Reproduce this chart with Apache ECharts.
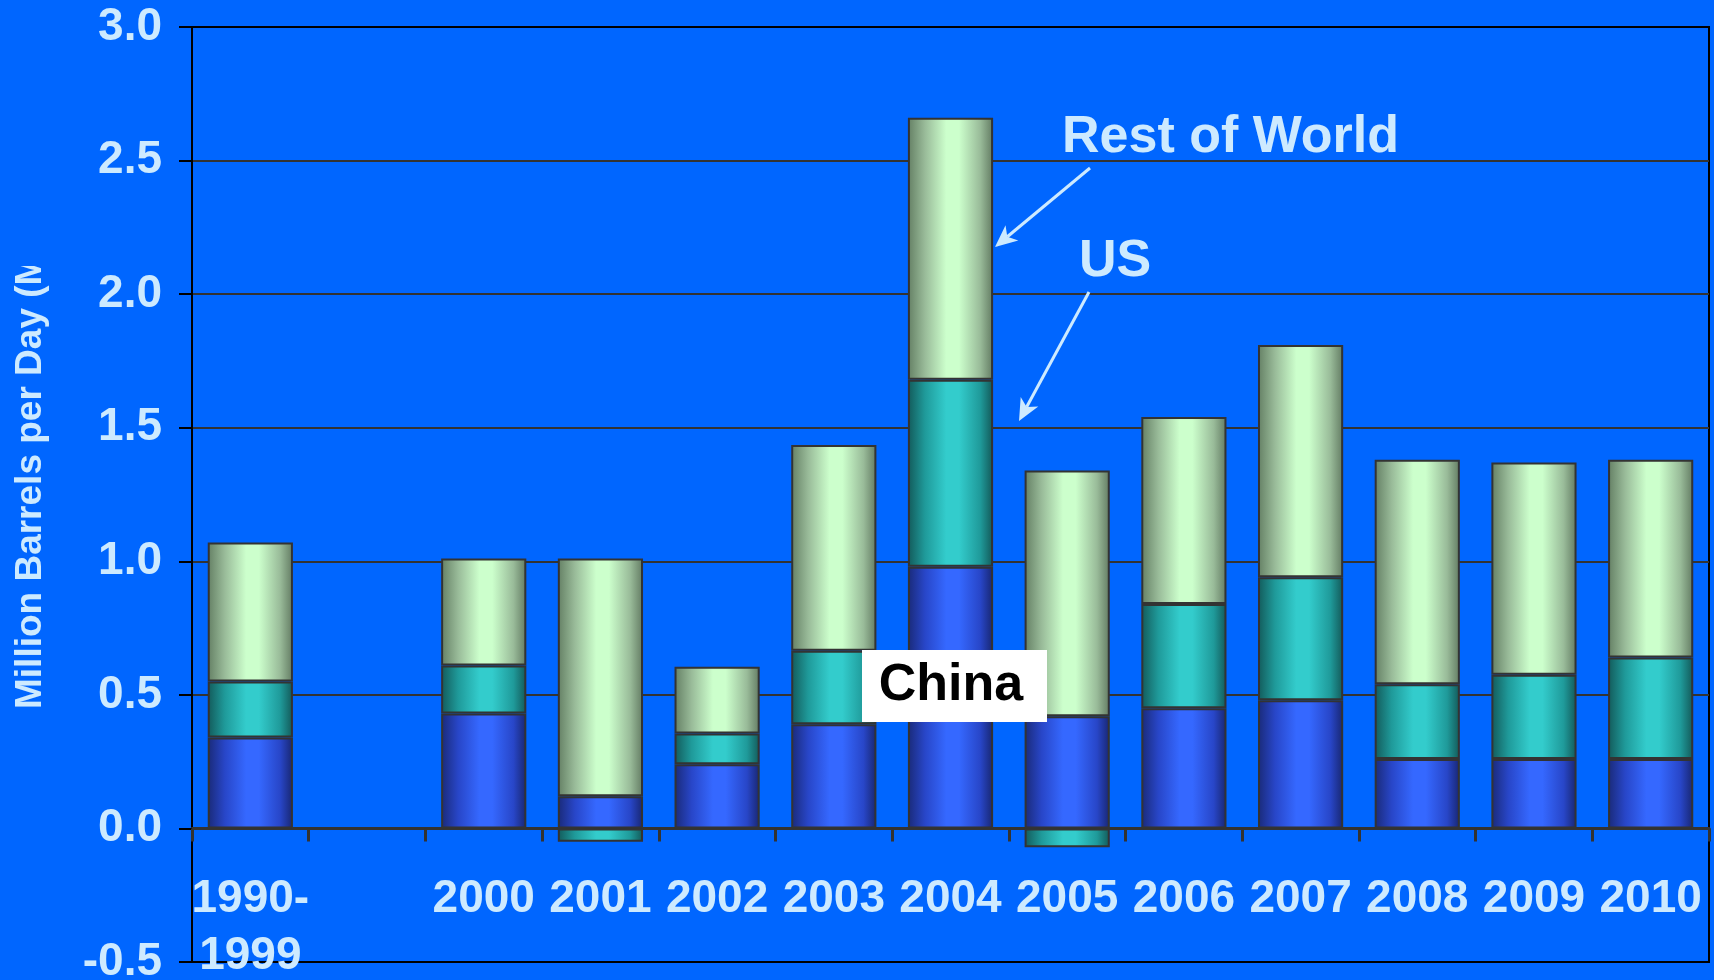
<!DOCTYPE html>
<html>
<head>
<meta charset="utf-8">
<title>Oil Demand Growth</title>
<script src="https://cdn.jsdelivr.net/npm/echarts@6.0.0/dist/echarts.min.js"></script>
<style>
  html, body { margin: 0; padding: 0; background: #0066ff; }
  #chart { width: 1714px; height: 980px; }
</style>
</head>
<body>
<div id="chart"></div>
<script>
// Annual growth in oil demand, million barrels per day
const categories = ['1990-\n1999', '', '2000', '2001', '2002', '2003', '2004', '2005', '2006', '2007', '2008', '2009', '2010'];
const chinaValues = [0.34, null, 0.43, 0.12, 0.24, 0.39, 0.98, 0.42, 0.45, 0.48, 0.26, 0.26, 0.26];
const usValues    = [0.21, null, 0.18, -0.05, 0.115, 0.275, 0.70, -0.07, 0.39, 0.46, 0.28, 0.315, 0.38];
const rowValues   = [0.52, null, 0.40, 0.89, 0.25, 0.77, 0.98, 0.92, 0.70, 0.87, 0.84, 0.795, 0.74];
const yTicks = { min: -0.5, max: 3.0, step: 0.5 };

const BG = '#0066ff';
const TEXT = '#cdeaff';
const FONT = '"Liberation Sans", Arial, Helvetica, sans-serif';

// horizontal shading that gives each bar a rounded, cylindrical look
function cylinder(edgeL, mid, light, edgeR) {
  return {
    type: 'linear', x: 0, y: 0, x2: 1, y2: 0,
    colorStops: [
      { offset: 0, color: edgeL },
      { offset: 0.2, color: mid },
      { offset: 0.45, color: light },
      { offset: 0.6, color: light },
      { offset: 0.85, color: mid },
      { offset: 1, color: edgeR }
    ]
  };
}

function barSeries(name, data, fill) {
  return {
    name: name,
    type: 'bar',
    stack: 'total',
    xAxisIndex: 0,
    data: data,
    barWidth: '73%',
    itemStyle: { color: fill, borderColor: '#333333', borderWidth: 2 },
    emphasis: { disabled: true }
  };
}

// straight arrow with a notched head
function arrow(x1, y1, x2, y2) {
  const dx = x2 - x1, dy = y2 - y1, L = Math.hypot(dx, dy);
  const ux = dx / L, uy = dy / L;
  const hl = 22, hw = 10;
  const bx = x2 - ux * hl, by = y2 - uy * hl;
  return [
    { type: 'line', z: 20, shape: { x1: x1, y1: y1, x2: bx + ux * 6, y2: by + uy * 6 },
      style: { stroke: TEXT, lineWidth: 3 } },
    { type: 'polygon', z: 20, shape: { points: [
        [x2, y2], [bx - uy * hw, by + ux * hw], [bx + ux * 6, by + uy * 6], [bx + uy * hw, by - ux * hw]
      ] }, style: { fill: TEXT } }
  ];
}

const chart = echarts.init(document.getElementById('chart'), null, { renderer: 'canvas' });

const labelStyle = {
  color: TEXT, fontFamily: FONT, fontWeight: 'bold', fontSize: 46
};

const option = {
  backgroundColor: BG,
  animation: false,
  textStyle: { fontFamily: FONT },
  grid: {
    left: 192, right: 5, top: 27, bottom: 18,
    show: true, borderColor: '#000000', borderWidth: 2,
    backgroundColor: 'transparent',
    outerBoundsMode: 'none'
  },
  xAxis: [
    {
      // zero line with category ticks
      type: 'category',
      data: categories,
      boundaryGap: true,
      axisLine: { show: true, onZero: true, lineStyle: { color: '#333333', width: 3 } },
      axisTick: { show: true, interval: 0, length: 13, lineStyle: { color: '#333333', width: 3 } },
      axisLabel: { show: false },
      splitLine: { show: false }
    },
    {
      // year labels under the zero line
      type: 'category',
      data: categories,
      boundaryGap: true,
      position: 'bottom',
      offset: -91,
      axisLine: { show: false, onZero: false },
      axisTick: { show: false },
      splitLine: { show: false },
      axisLabel: Object.assign({ show: true, interval: 0, margin: 0, lineHeight: 57,
        hideOverlap: false, verticalAlign: 'top' }, labelStyle)
    }
  ],
  yAxis: {
    type: 'value',
    min: yTicks.min, max: yTicks.max, interval: yTicks.step,
    axisLine: { show: true, lineStyle: { color: '#000000', width: 2 } },
    axisTick: { show: true, length: 13, lineStyle: { color: '#000000', width: 2 } },
    axisLabel: Object.assign({ margin: 30, formatter: v => v.toFixed(1) }, labelStyle),
    splitLine: { show: true, showMinLine: false, showMaxLine: false,
      lineStyle: { color: '#333333', width: 2 } }
  },
  series: [
    barSeries('China', chinaValues, cylinder('#1a2a78', '#2846c8', '#3568ff', '#182670')),
    barSeries('US', usValues, cylinder('#135a5a', '#1f9a9a', '#33cccc', '#135858')),
    barSeries('Rest of World', rowValues, cylinder('#647f64', '#99bb99', '#ccffcc', '#627a62'))
  ],
  graphic: [
    // vertical axis title
    { type: 'text', z: 10, x: 31, y: 709, rotation: Math.PI / 2,
      style: { text: 'Million Barrels per Day (MMBD)', fill: TEXT, font: 'bold 37px ' + FONT,
        align: 'left', verticalAlign: 'middle' } },
    { type: 'rect', z: 11, shape: { x: 0, y: 0, width: 75, height: 266 }, style: { fill: BG } },
    // series call-outs
    { type: 'text', z: 20, x: 1062, y: 138,
      style: { text: 'Rest of World', fill: TEXT, font: 'bold 52px ' + FONT, align: 'left', verticalAlign: 'middle' } },
    ...arrow(1090, 168, 995, 247),
    { type: 'text', z: 20, x: 1079, y: 262,
      style: { text: 'US', fill: TEXT, font: 'bold 52px ' + FONT, align: 'left', verticalAlign: 'middle' } },
    ...arrow(1089, 292, 1019, 421),
    { type: 'rect', z: 20, shape: { x: 862, y: 650, width: 185, height: 72 }, style: { fill: '#ffffff' } },
    { type: 'text', z: 21, x: 951, y: 686,
      style: { text: 'China', fill: '#000000', font: 'bold 52px ' + FONT, align: 'center', verticalAlign: 'middle' } }
  ]
};

chart.setOption(option);
</script>
</body>
</html>
